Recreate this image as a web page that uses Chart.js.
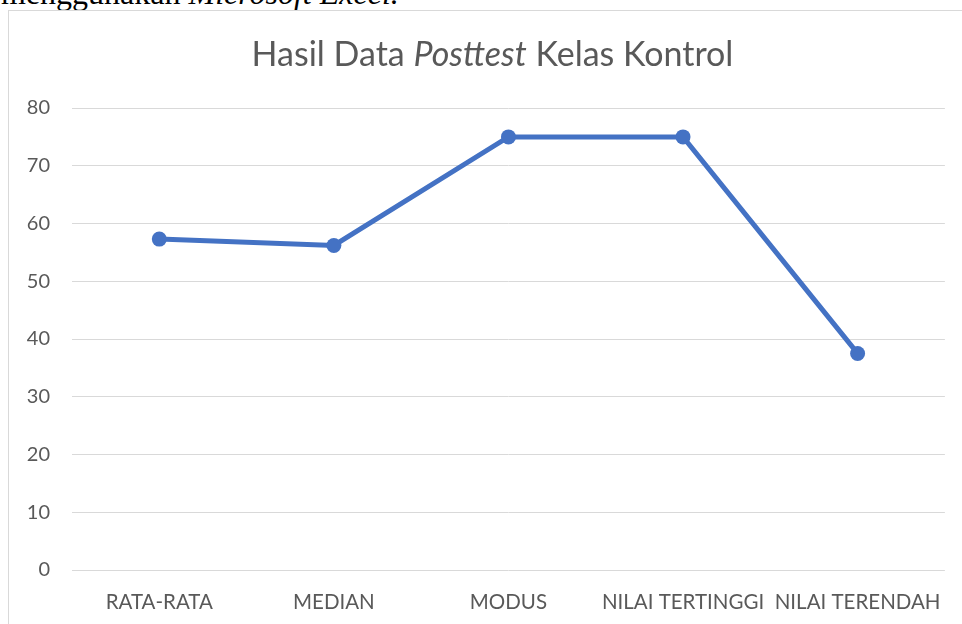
<!DOCTYPE html>
<html>
<head>
<meta charset="utf-8">
<script src="https://cdn.jsdelivr.net/npm/chart.js@4.4.1/dist/chart.umd.min.js"></script>
<style>
  html, body { margin: 0; padding: 0; background: #ffffff; width: 962px; height: 624px; overflow: hidden; }
  #doc { position: absolute; left: 1px; top: -23px; font-family: "Liberation Serif", "Times New Roman", serif; font-size: 32px; line-height: 32px; color: #000; white-space: nowrap; }
  #doc i { font-style: italic; }
  #wrap { position: absolute; left: 8px; top: 10px; width: 980px; height: 640px; border: 1px solid #d9d9d9; background: #fff; }
  #cv { position: absolute; left: 0; top: 0; }
</style>
</head>
<body>
<div id="doc">menggunakan <i>Microsoft Excel.</i></div>
<div id="wrap"><canvas id="cv" width="953" height="613" style="width:953px;height:613px;"></canvas></div>
<script>
const categories = ["RATA-RATA", "MEDIAN", "MODUS", "NILAI TERTINGGI", "NILAI TERENDAH"];
const posttestValues = [57.3, 56.2, 75, 75, 37.5];
const yTicks = [0, 10, 20, 30, 40, 50, 60, 70, 80];
const titleParts = [
  { text: "Hasil Data ", italic: false },
  { text: "Posttest", italic: true },
  { text: " Kelas Kontrol", italic: false }
];

const textColor = "#595959";
const fontFam = "Lato, 'Open Sans', sans-serif";

const titlePlugin = {
  id: "mixedTitle",
  afterDraw(chart) {
    const ctx = chart.ctx;
    ctx.save();
    ctx.fillStyle = textColor;
    ctx.textBaseline = "alphabetic";
    ctx.textAlign = "left";
    const size = 34;
    let total = 0;
    const widths = titleParts.map(p => {
      ctx.font = (p.italic ? "italic " : "") + size + "px " + fontFam;
      const w = ctx.measureText(p.text).width;
      total += w;
      return w;
    });
    let x = 483.5 - total / 2;
    const y = 55;
    titleParts.forEach((p, i) => {
      ctx.font = (p.italic ? "italic " : "") + size + "px " + fontFam;
      ctx.fillText(p.text, x, y);
      x += widths[i];
    });
    ctx.restore();
  }
};

new Chart(document.getElementById("cv"), {
  type: "line",
  data: {
    labels: categories,
    datasets: [{
      label: "Posttest",
      data: posttestValues,
      borderColor: "#4472C4",
      backgroundColor: "#4472C4",
      borderWidth: 5,
      pointRadius: 7.5,
      pointHoverRadius: 7.5,
      pointBorderWidth: 0,
      pointBackgroundColor: "#4472C4",
      tension: 0,
      fill: false
    }]
  },
  options: {
    responsive: false,
    animation: false,
    devicePixelRatio: 1,
    layout: { padding: { top: 97, right: 15, left: 0, bottom: 0 } },
    plugins: {
      legend: { display: false },
      title: { display: false },
      tooltip: { enabled: false }
    },
    scales: {
      x: {
        offset: true,
        grid: { display: false, drawTicks: false },
        border: { display: false },
        ticks: {
          color: textColor,
          font: { family: fontFam, size: 20.5 },
          padding: 20,
          maxRotation: 0,
          autoSkip: false
        },
        afterFit(scale) { scale.height = 54; }
      },
      y: {
        min: 0,
        max: 80,
        afterBuildTicks(scale) { scale.ticks = yTicks.map(v => ({ value: v })); },
        grid: { color: "#d9d9d9", lineWidth: 1, drawTicks: false },
        border: { display: false },
        ticks: {
          color: textColor,
          font: { family: fontFam, size: 20 },
          padding: 22
        },
        afterFit(scale) { scale.width = 63; }
      }
    }
  },
  plugins: [titlePlugin]
});
</script>
</body>
</html>
